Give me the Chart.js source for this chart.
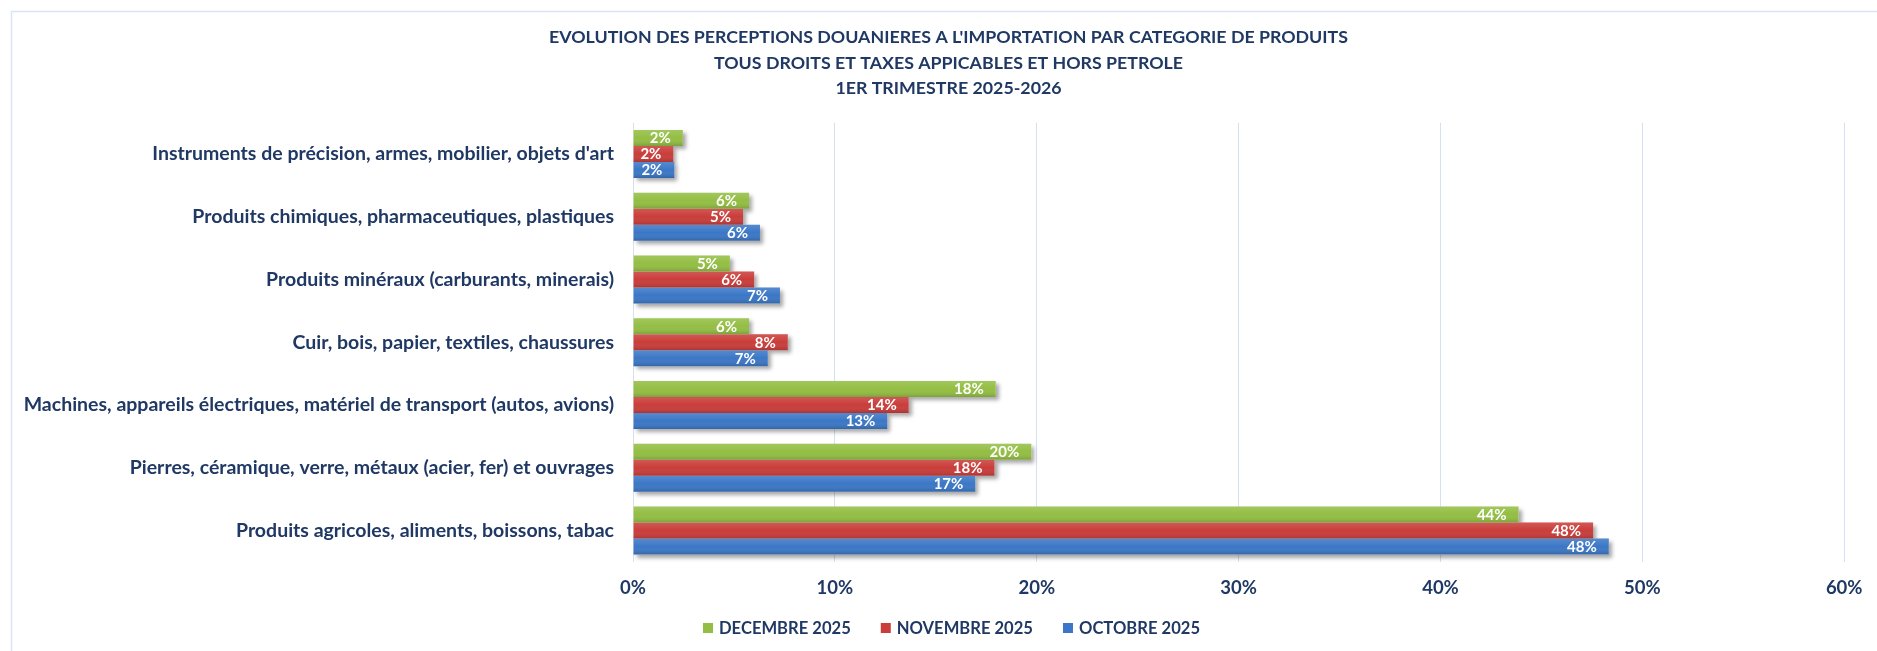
<!DOCTYPE html>
<html>
<head>
<meta charset="utf-8">
<script src="https://cdn.jsdelivr.net/npm/chart.js@4"></script>
<style>
html,body{margin:0;padding:0;background:#fff;}
#wrap{width:1877px;height:651px;position:relative;}
</style>
</head>
<body>
<div id="wrap"><canvas id="c" width="1877" height="651"></canvas></div>
<script>
const categories = [
  "Instruments de précision, armes, mobilier, objets d'art",
  "Produits chimiques, pharmaceutiques, plastiques",
  "Produits minéraux (carburants, minerais)",
  "Cuir, bois, papier, textiles, chaussures",
  "Machines, appareils électriques, matériel de transport (autos, avions)",
  "Pierres, céramique, verre, métaux (acier, fer) et ouvrages",
  "Produits agricoles, aliments, boissons, tabac"
];
const seriesNames = ["DECEMBRE 2025", "NOVEMBRE 2025", "OCTOBRE 2025"];
const decembre = [2.47, 5.75, 4.8, 5.75, 17.97, 19.73, 43.87];
const novembre = [2.0, 5.45, 6.0, 7.67, 13.66, 17.91, 47.56];
const octobre  = [2.05, 6.29, 7.28, 6.68, 12.6, 16.96, 48.34];
const xTicks = [0, 10, 20, 30, 40, 50, 60];
const titleLines = [
  "EVOLUTION DES PERCEPTIONS DOUANIERES A L'IMPORTATION PAR CATEGORIE DE PRODUITS",
  "TOUS DROITS ET TAXES APPICABLES ET HORS PETROLE",
  "1ER TRIMESTRE 2025-2026"
];

const NAVY = '#1F3864';
const GRID = '#D5E0F2';
const colors = ['#93BE43', '#C93D3A', '#3B77C6'];

const framePlugin = {
  id: 'frame',
  beforeDraw(chart) {
    const ctx = chart.ctx;
    ctx.save();
    ctx.fillStyle = '#fff';
    ctx.fillRect(0, 0, chart.width, chart.height);
    ctx.strokeStyle = '#D9E4F5';
    ctx.lineWidth = 1.5;
    ctx.beginPath();
    ctx.moveTo(11.5, chart.height + 5);
    ctx.lineTo(11.5, 11.5);
    ctx.lineTo(chart.width + 5, 11.5);
    ctx.stroke();
    ctx.restore();
  }
};

const legendPlugin = {
  id: 'customLegend',
  afterDraw(chart) {
    const ctx = chart.ctx;
    const font = 'bold 16.6px Lato';
    const box = 10, gapText = 6, gapItem = 30;
    ctx.save();
    ctx.font = font;
    const items = chart.data.datasets.map(ds => ({ text: ds.label, color: ds.backgroundColor, w: ctx.measureText(ds.label).width }));
    const total = items.reduce((s, it) => s + box + gapText + it.w, 0) + gapItem * (items.length - 1);
    const cx = (chart.titleBlock.left + chart.titleBlock.right) / 2 + 3;
    const cy = chart.chartArea.bottom + 66;
    let x = cx - total / 2;
    ctx.textAlign = 'left';
    ctx.textBaseline = 'middle';
    items.forEach(it => {
      ctx.fillStyle = it.color;
      ctx.fillRect(x, cy - box / 2, box, box);
      x += box + gapText;
      ctx.fillStyle = NAVY;
      ctx.fillText(it.text, x, cy + 0.5);
      x += it.w + gapItem;
    });
    ctx.restore();
  }
};

const barFx = {
  id: 'barFx',
  beforeDatasetsDraw(chart) {
    const ctx = chart.ctx;
    chart.data.datasets.forEach((ds, i) => {
      const meta = chart.getDatasetMeta(i);
      meta.data.forEach(el => {
        const p = el.getProps(['x', 'y', 'base', 'height'], true);
        ctx.save();
        ctx.shadowColor = 'rgba(0,0,0,0.35)';
        ctx.shadowBlur = 4;
        ctx.shadowOffsetX = 3;
        ctx.shadowOffsetY = 3;
        ctx.fillStyle = '#fff';
        ctx.fillRect(p.base, p.y - p.height / 2, p.x - p.base, p.height);
        ctx.restore();
      });
    });
  },
  afterDatasetsDraw(chart) {
    const ctx = chart.ctx;
    chart.data.datasets.forEach((ds, i) => {
      const meta = chart.getDatasetMeta(i);
      meta.data.forEach((el, j) => {
        const p = el.getProps(['x', 'y', 'base', 'height'], true);
        const top = p.y - p.height / 2;
        const g = ctx.createLinearGradient(0, top, 0, top + p.height);
        g.addColorStop(0, 'rgba(255,255,255,0.14)');
        g.addColorStop(0.5, 'rgba(255,255,255,0)');
        g.addColorStop(1, 'rgba(0,0,0,0.16)');
        ctx.save();
        ctx.fillStyle = g;
        ctx.fillRect(p.base, top, p.x - p.base, p.height);
        ctx.restore();
      });
    });
    chart.data.datasets.forEach((ds, i) => {
      const meta = chart.getDatasetMeta(i);
      meta.data.forEach((el, j) => {
        const p = el.getProps(['x', 'y'], true);
        ctx.save();
        ctx.font = 'bold 15px Lato';
        ctx.fillStyle = '#fff';
        ctx.textAlign = 'right';
        ctx.textBaseline = 'middle';
        ctx.fillText(Math.round(ds.data[j]) + '%', p.x - 12, p.y + 0.5);
        ctx.restore();
      });
    });
  }
};

new Chart(document.getElementById('c'), {
  type: 'bar',
  data: {
    labels: categories,
    datasets: [
      { label: seriesNames[0], data: decembre, backgroundColor: colors[0] },
      { label: seriesNames[1], data: novembre, backgroundColor: colors[1] },
      { label: seriesNames[2], data: octobre, backgroundColor: colors[2] }
    ]
  },
  options: {
    indexAxis: 'y',
    responsive: false,
    animation: false,
    events: [],
    categoryPercentage: 0.765,
    barPercentage: 1.0,
    layout: { padding: { left: 20, right: 0, top: 12, bottom: 40.5 } },
    scales: {
      x: {
        min: 0, max: 60,
        afterBuildTicks(scale) { scale.ticks = xTicks.map(v => ({ value: v })); },
        ticks: {
          callback: v => v + '%',
          color: NAVY,
          font: { family: 'Lato', weight: 'bold', size: 18.5 },
          padding: 14.5,
          maxRotation: 0
        },
        grid: { color: GRID, lineWidth: 1, drawTicks: false },
        border: { display: false },
        afterFit(scale) { scale.height = 48.5; }
      },
      y: {
        ticks: {
          color: NAVY,
          font: { family: 'Lato', weight: 'bold', size: 19.5 },
          padding: 19
        },
        grid: { display: false, drawTicks: false },
        border: { display: false },
        afterFit(scale) { scale.width = 613; }
      },
      y2: {
        type: 'linear',
        position: 'right',
        display: true,
        ticks: { display: false },
        grid: { display: false, drawTicks: false },
        border: { display: false },
        afterFit(scale) { scale.width = 26; }
      }
    },
    plugins: {
      title: {
        display: true,
        text: titleLines,
        color: NAVY,
        font: { family: 'Lato', weight: 'bold', size: 17.8, lineHeight: 1.444 },
        padding: { top: 12.5, bottom: 21 }
      },
      legend: { display: false },
      tooltip: { enabled: false }
    }
  },
  plugins: [framePlugin, barFx, legendPlugin]
});
</script>
</body>
</html>
